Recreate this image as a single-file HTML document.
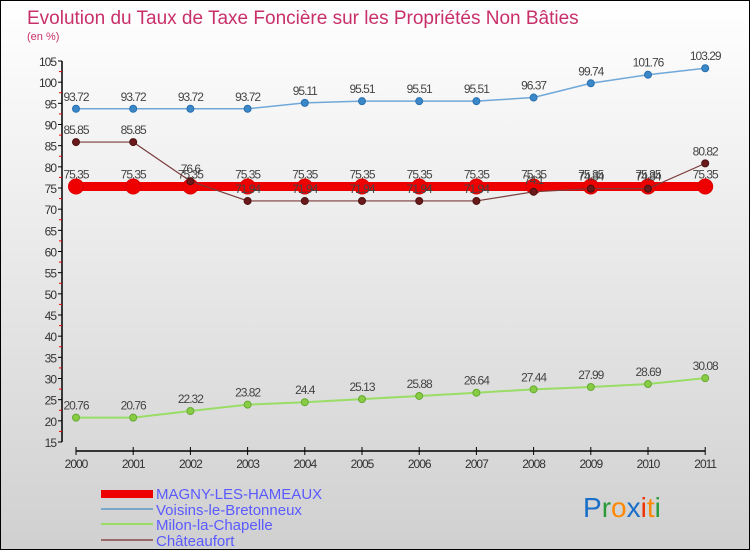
<!DOCTYPE html>
<html><head><meta charset="utf-8"><style>
html,body{margin:0;padding:0}
body{width:750px;height:550px;overflow:hidden;font-family:"Liberation Sans",sans-serif}
#wrap{position:relative;width:748px;height:548px;border:1px solid #000;background:linear-gradient(#ffffff,#d0d0d0)}
svg text{font-family:"Liberation Sans",sans-serif}
</style></head><body>
<div id="wrap">
<svg id="chart" width="748" height="548">
<text x="26" y="23" font-size="19" fill="#c8306a">Evolution du Taux de Taxe Foncière sur les Propriétés Non Bâties</text>
<text x="26" y="39" font-size="11" fill="#c8306a">(en %)</text>
<g id="axes"></g><g id="series"></g>
<g>
<rect x="100" y="489" width="52" height="8" fill="#ee0000"/>
<text x="155" y="498" font-size="15" fill="#5a5aff">MAGNY-LES-HAMEAUX</text>
<rect x="100" y="507" width="52" height="2" fill="#7aa6c8"/>
<text x="155" y="514" font-size="15" fill="#5a5aff">Voisins-le-Bretonneux</text>
<rect x="100" y="522" width="52" height="2" fill="#99dd66"/>
<text x="155" y="529" font-size="15" fill="#5a5aff">Milon-la-Chapelle</text>
<rect x="100" y="538" width="52" height="2" fill="#9a6a6a"/>
<text x="155" y="545" font-size="15" fill="#5a5aff">Châteaufort</text>
</g>
<g font-size="28">
<text x="582" y="516"><tspan fill="#1a6fc8">P</tspan><tspan fill="#2a9a3a">r</tspan><tspan fill="#ff8800">o</tspan><tspan fill="#1a6fc8">x</tspan><tspan fill="#ee3300">i</tspan><tspan fill="#ff8800">t</tspan><tspan fill="#2a9a3a">i</tspan></text>
</g>
</svg></div>
<script>
const years=["2000","2001","2002","2003","2004","2005","2006","2007","2008","2009","2010","2011"];
const yTicks=[15,20,25,30,35,40,45,50,55,60,65,70,75,80,85,90,95,100,105];
const magny=[75.35,75.35,75.35,75.35,75.35,75.35,75.35,75.35,75.35,75.35,75.35,75.35];
const voisins=[93.72,93.72,93.72,93.72,95.11,95.51,95.51,95.51,96.37,99.74,101.76,103.29];
const milon=[20.76,20.76,22.32,23.82,24.4,25.13,25.88,26.64,27.44,27.99,28.69,30.08];
const chateaufort=[85.85,85.85,76.6,71.94,71.94,71.94,71.94,71.94,74.1,74.84,74.84,80.82];
const NS="http://www.w3.org/2000/svg";
const xS=i=>75+i*57.2;
const yS=v=>60+(105-v)*381/90;
function mk(t,a,p){const e=document.createElementNS(NS,t);for(const k in a)e.setAttribute(k,a[k]);p.appendChild(e);return e;}
const ax=document.getElementById('axes');
let yl=mk('line',{x1:61,y1:yS(105),x2:61,y2:yS(15),stroke:'#000','stroke-width':1.5},ax);


yTicks.forEach(v=>{
  mk('line',{x1:57,x2:61,y1:yS(v),y2:yS(v),stroke:'#000'},ax);
  if(v<105) mk('line',{x1:58,x2:61,y1:yS(v+2.5),y2:yS(v+2.5),stroke:'#e00'},ax);
  const t=mk('text',{x:55,y:yS(v)+5,'font-size':12,fill:'#333','text-anchor':'end','letter-spacing':'-1'},ax);
  t.textContent=v;
  
  
});
let xl=mk('line',{x1:xS(0),y1:450,x2:xS(11),y2:450,stroke:'#000','stroke-width':1.5},ax);


years.forEach((y,i)=>{
  mk('line',{x1:xS(i),x2:xS(i),y1:446,y2:454,stroke:'#000'},ax);
  const t=mk('text',{x:xS(i),y:467,'font-size':12,fill:'#333','text-anchor':'middle','letter-spacing':'-1'},ax);
  t.textContent=y;
  
  
});
const sg=document.getElementById('series');
function series(name,data,color,w,r,dot,stroke){
  const g=mk('g',{},sg);
  
  
  mk('polyline',{points:data.map((v,i)=>xS(i)+','+yS(v)).join(' '),fill:'none',stroke:color,'stroke-width':w},g);
  data.forEach((v,i)=>{
    const c=mk('circle',{cx:xS(i),cy:yS(v),r:r,fill:dot,stroke:stroke,'stroke-width':1},g);
    
    
    const t=mk('text',{x:xS(i),y:yS(v)-8,'font-size':12,fill:'#444','text-anchor':'middle','letter-spacing':'-1'},g);
    t.textContent=String(v);
    
    
  });
}
series('voisins',voisins,'#6fa8d8',1.5,3.5,'#3a88c8','#2a70b0');
series('milon',milon,'#99dd66',2,3.5,'#88cc44','#66aa33');
series('magny',magny,'#ee0000',9,7.5,'#ee0000','#dd0000');
series('chateaufort',chateaufort,'#7a3a3a',1.2,3.5,'#6a1a1a','#4a1010');
</script>
</body></html>
